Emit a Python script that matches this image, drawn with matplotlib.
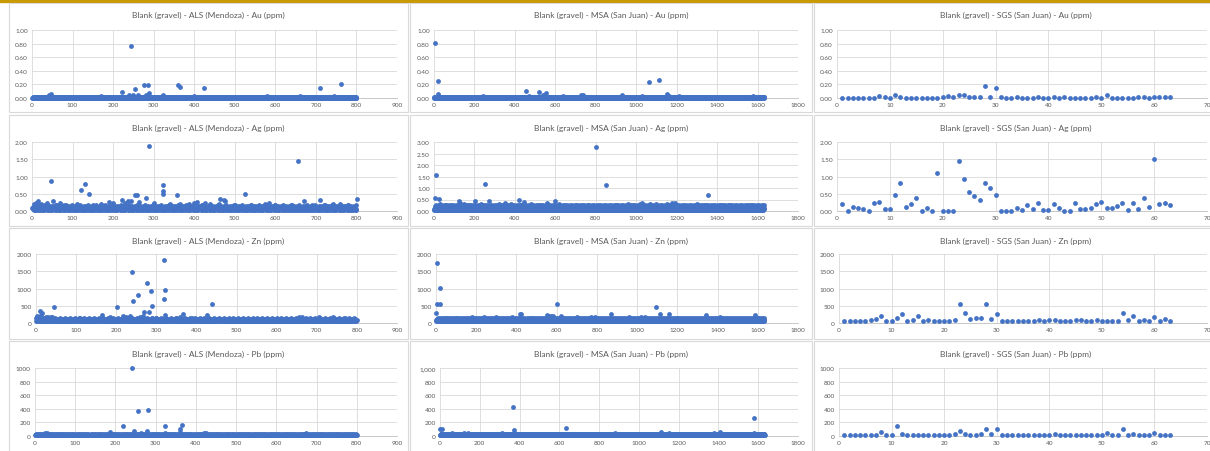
import matplotlib.pyplot as plt
import numpy as np
from matplotlib.patches import Rectangle

# --- data ---

ALS_N = 800     # ALS (Mendoza) sample count
MSA_N = 1632    # MSA (San Juan) sample count

# background level patterns (the dense band), tiled over all samples
ALS_AU_BASE = [0.00, 0.01, 0.00, 0.02, 0.00, 0.01, 0.00, 0.00, 0.01, 0.02, 0.00, 0.01]
ALS_AG_BASE = [0.08, 0.05, 0.12, 0.03, 0.10, 0.06, 0.14, 0.04, 0.09, 0.02, 0.11, 0.07,
               0.15, 0.05, 0.08, 0.03, 0.12, 0.06, 0.18, 0.04]
ALS_ZN_BASE = [70, 90, 60, 110, 80, 50, 100, 75, 120, 65, 85, 140]
ALS_PB_BASE = [15, 25, 10, 20, 30, 12, 18, 22]
MSA_AU_BASE = [0.00, 0.01, 0.00, 0.00, 0.02, 0.01]
MSA_AG_BASE = [0.10, 0.05, 0.15, 0.08, 0.20, 0.03, 0.12, 0.06, 0.18, 0.09, 0.14, 0.24]
MSA_ZN_BASE = [80, 60, 110, 70, 130, 90, 50, 100, 75, 145]
MSA_PB_BASE = [20, 10, 30, 15, 25, 12, 35, 18]

# notable samples (outliers and bumps above the band)
ALS_AU_X = [46, 221, 243, 254, 276, 287, 288, 324, 359, 365, 425, 710, 763, 240, 250, 262,
            280, 42, 170, 400, 580, 660, 745]
ALS_AU_Y = [0.06, 0.09, 0.77, 0.13, 0.19, 0.19, 0.07, 0.04, 0.19, 0.16, 0.15, 0.14, 0.21,
            0.04, 0.05, 0.04, 0.04, 0.04, 0.03, 0.03, 0.03, 0.03, 0.03]

ALS_AG_X = [5, 15, 30, 46, 52, 68, 121, 131, 140, 170, 189, 221, 237, 243, 254, 258, 282,
            288, 322, 322, 323, 358, 365, 386, 399, 407, 426, 460, 463, 474, 477, 524,
            655, 671, 711, 723, 743, 801,
            10, 22, 36, 60, 85, 110, 150, 200, 230, 265, 300, 340, 420, 440, 500, 540,
            575, 585, 600, 640, 690, 760, 780]
ALS_AG_Y = [0.20, 0.28, 0.18, 0.87, 0.30, 0.22, 0.60, 0.77, 0.50, 0.20, 0.25, 0.32, 0.30,
            0.30, 0.45, 0.45, 0.38, 1.88, 0.76, 0.50, 0.57, 0.46, 0.20, 0.20, 0.22, 0.25,
            0.22, 0.20, 0.35, 0.33, 0.28, 0.48, 1.45, 0.30, 0.33, 0.18, 0.20, 0.35,
            0.22, 0.20, 0.24, 0.18, 0.16, 0.20, 0.18, 0.22, 0.24, 0.25, 0.22, 0.20, 0.18,
            0.20, 0.16, 0.18, 0.20, 0.22, 0.18, 0.16, 0.18, 0.20, 0.18]

ALS_ZN_X = [2, 5, 9, 14, 20, 30, 38, 44, 165, 202, 216, 235, 239, 241, 255, 268, 270,
            277, 281, 286, 288, 318, 320, 321, 322, 366, 426, 438, 663, 706, 771,
            1, 3, 6, 12, 16, 25, 33, 40, 100, 110, 185, 225, 230, 260, 290, 300, 350,
            360, 390, 400, 545, 590, 655, 740]
ALS_ZN_Y = [180, 150, 340, 280, 150, 160, 170, 475, 220, 475, 195, 200, 1490, 650, 820,
            200, 330, 1160, 330, 930, 490, 705, 1840, 960, 240, 250, 240, 540, 160, 160, 150,
            150, 200, 160, 220, 130, 170, 150, 160, 130, 140, 160, 180, 150, 160, 150, 140,
            150, 180, 140, 130, 130, 120, 180, 160]

ALS_PB_X = [187, 220, 242, 246, 257, 264, 279, 281, 322, 322, 361, 365, 674,
            25, 30, 60, 360, 420, 425]
ALS_PB_Y = [55, 140, 1000, 70, 370, 40, 80, 385, 150, 50, 100, 155, 40,
            40, 45, 35, 60, 45, 50]

MSA_AU_X = [7, 18, 18, 457, 518, 539, 555, 729, 1063, 1111, 1150, 1579,
            240, 470, 640, 735, 930, 1030, 1160, 1210]
MSA_AU_Y = [0.81, 0.25, 0.06, 0.11, 0.09, 0.05, 0.07, 0.05, 0.23, 0.26, 0.06, 0.03,
            0.03, 0.03, 0.03, 0.04, 0.04, 0.03, 0.03, 0.03]

MSA_AG_X = [7, 12, 23, 122, 201, 250, 274, 419, 447, 597, 800, 849, 1020, 1028, 1177, 1353,
            30, 60, 130, 150, 180, 230, 320, 350, 380, 430, 480, 520, 560, 620, 700, 760,
            900, 960, 1070, 1100, 1150, 1190, 1300, 1340, 1420, 1460, 1570]
MSA_AG_Y = [0.58, 1.58, 0.54, 0.45, 0.45, 1.18, 0.43, 0.48, 0.39, 0.42, 2.80, 1.15, 0.30,
            0.35, 0.33, 0.70,
            0.30, 0.25, 0.35, 0.30, 0.28, 0.32, 0.30, 0.35, 0.30, 0.28, 0.30, 0.25, 0.33,
            0.30, 0.28, 0.25, 0.27, 0.30, 0.30, 0.32, 0.30, 0.36, 0.30, 0.28, 0.28, 0.25,
            0.25]

MSA_ZN_X = [0, 5, 7, 20, 22, 418, 421, 560, 570, 600, 871, 1095, 1116, 1161, 1344, 1584,
            50, 100, 180, 240, 300, 380, 470, 550, 580, 620, 700, 770, 790, 960, 1020,
            1040, 1200, 1410, 1600]
MSA_ZN_Y = [300, 1745, 540, 540, 1005, 270, 270, 200, 210, 560, 260, 455, 250, 250, 220, 230,
            150, 150, 160, 170, 160, 180, 150, 220, 200, 190, 160, 170, 160, 180, 170,
            180, 150, 160, 150]

MSA_PB_X = [0, 10, 368, 370, 636, 1109, 1377, 1410, 1577, 1577,
            60, 120, 140, 310, 880, 1150]
MSA_PB_Y = [100, 110, 420, 85, 115, 65, 50, 55, 265, 50,
            40, 45, 45, 45, 40, 40]

# SGS (San Juan), samples 1..63
SGS_AU = [0.00, 0.00, 0.00, 0.00, 0.00, 0.00, 0.00, 0.03, 0.01, 0.00, 0.04, 0.01, 0.00, 0.00,
          0.00, 0.00, 0.00, 0.00, 0.00, 0.01, 0.03, 0.01, 0.05, 0.04, 0.01, 0.01, 0.01, 0.18,
          0.02, 0.15, 0.02, 0.00, 0.00, 0.01, 0.00, 0.00, 0.00, 0.01, 0.00, 0.00, 0.01, 0.00,
          0.01, 0.00, 0.00, 0.00, 0.00, 0.00, 0.01, 0.00, 0.05, 0.00, 0.00, 0.00, 0.00, 0.00,
          0.01, 0.01, 0.00, 0.02, 0.01, 0.01, 0.01]
SGS_AG = [0.20, 0.01, 0.11, 0.08, 0.05, 0.00, 0.22, 0.26, 0.05, 0.05, 0.45, 0.82, 0.11, 0.20,
          0.37, 0.00, 0.08, 0.01, 1.10, 0.00, 0.00, 0.00, 1.46, 0.94, 0.56, 0.43, 0.31, 0.81,
          0.66, 0.46, 0.00, 0.00, 0.00, 0.09, 0.04, 0.17, 0.07, 0.24, 0.04, 0.04, 0.21, 0.08,
          0.00, 0.00, 0.23, 0.05, 0.05, 0.10, 0.21, 0.25, 0.08, 0.09, 0.15, 0.22, 0.02, 0.23,
          0.05, 0.37, 0.13, 1.51, 0.19, 0.24, 0.18]
SGS_ZN = [70, 50, 70, 70, 70, 80, 110, 190, 60, 70, 150, 270, 70, 80, 210, 60, 80, 70, 70,
          60, 70, 90, 550, 280, 120, 140, 140, 560, 110, 270, 50, 50, 60, 70, 70, 60, 60, 80,
          60, 80, 80, 70, 70, 60, 80, 80, 70, 70, 80, 70, 60, 70, 70, 300, 80, 200, 70, 80,
          60, 170, 70, 120, 60]
SGS_PB = [15, 10, 20, 15, 20, 20, 15, 55, 15, 20, 150, 30, 20, 15, 20, 15, 20, 20, 15, 15,
          15, 25, 80, 25, 20, 20, 25, 110, 30, 100, 10, 15, 15, 20, 15, 15, 15, 10, 10, 15,
          25, 15, 15, 15, 15, 15, 10, 10, 20, 15, 45, 15, 15, 105, 20, 30, 15, 20, 15, 40,
          15, 20, 15]

LABS = ["ALS (Mendoza)", "MSA (San Juan)", "SGS (San Juan)"]
ELEMENTS = ["Au", "Ag", "Zn", "Pb"]

# --- layout (pixels of the 1210x452 picture) ---
W, H = 1210, 452
# plot-area left edge per row/column (Excel shifts it with the y-label width)
PLOT_LEFT = [[32, 434, 837], [32, 434, 837], [36, 436, 839], [35, 440, 839]]
PLOT_RIGHT = [397, 798, 1207]
COL_BOX = [(9, 408), (410, 812), (814, 1222)]
TITLE_X = [208, 611, 1016]
ROW_PLOT = [(31, 99), (143, 212), (255, 324), (369, 437)]
ROW_BOX = [(4, 113), (116, 227), (229, 340), (342, 460)]
TITLE_Y = [15, 128, 241, 354]

XLIM = [(900, 100), (1800, 200), (70, 10)]
# per element and lab: (ymax, step, label format)
YAX = {
    "Au": [(1.0, 0.2, "{:.2f}")] * 3,
    "Ag": [(2.0, 0.5, "{:.2f}"), (3.0, 0.5, "{:.2f}"), (2.0, 0.5, "{:.2f}")],
    "Zn": [(2000, 500, "{:.0f}")] * 3,
    "Pb": [(1000, 200, "{:.0f}"), (1000, 200, "{:,.0f}"), (1000, 200, "{:.0f}")],
}

BLUE = "#4472C4"
GRID = "#D9D9D9"
TXT = "#595959"
plt.rcParams['font.family'] = ['Lato', 'DejaVu Sans']


def dense(base, n, nx, ny):
    x = np.concatenate([np.arange(1, n + 1), nx])
    y = np.concatenate([np.resize(np.array(base, float), n), ny])
    return x, y


sgs_x = np.arange(1, len(SGS_AU) + 1)
SERIES = {
    ("Au", 0): dense(ALS_AU_BASE, ALS_N, ALS_AU_X, ALS_AU_Y),
    ("Ag", 0): dense(ALS_AG_BASE, ALS_N, ALS_AG_X, ALS_AG_Y),
    ("Zn", 0): dense(ALS_ZN_BASE, ALS_N, ALS_ZN_X, ALS_ZN_Y),
    ("Pb", 0): dense(ALS_PB_BASE, ALS_N, ALS_PB_X, ALS_PB_Y),
    ("Au", 1): dense(MSA_AU_BASE, MSA_N, MSA_AU_X, MSA_AU_Y),
    ("Ag", 1): dense(MSA_AG_BASE, MSA_N, MSA_AG_X, MSA_AG_Y),
    ("Zn", 1): dense(MSA_ZN_BASE, MSA_N, MSA_ZN_X, MSA_ZN_Y),
    ("Pb", 1): dense(MSA_PB_BASE, MSA_N, MSA_PB_X, MSA_PB_Y),
    ("Au", 2): (sgs_x, SGS_AU),
    ("Ag", 2): (sgs_x, SGS_AG),
    ("Zn", 2): (sgs_x, SGS_ZN),
    ("Pb", 2): (sgs_x, SGS_PB),
}

fig = plt.figure(figsize=(W / 100, H / 100), dpi=100)

# gold strip along the top
fig.patches.append(Rectangle((0, 1 - 3 / H), 1, 3 / H, transform=fig.transFigure,
                             color="#C99A06", zorder=0))

for r, el in enumerate(ELEMENTS):
    for c, lab in enumerate(LABS):
        bx0, bx1 = COL_BOX[c]
        by0, by1 = ROW_BOX[r]
        fig.patches.append(Rectangle((bx0 / W, 1 - by1 / H), (bx1 - bx0) / W, (by1 - by0) / H,
                                     transform=fig.transFigure, fill=False,
                                     edgecolor=GRID, lw=0.8, zorder=0))

        x0, x1 = PLOT_LEFT[r][c], PLOT_RIGHT[c]
        y0, y1 = ROW_PLOT[r]
        ax = fig.add_axes([x0 / W, 1 - y1 / H, (x1 - x0) / W, (y1 - y0) / H])

        x, y = SERIES[(el, c)]
        ax.scatter(x, y, s=12, color=BLUE, linewidths=0, zorder=3, clip_on=False)

        xmax, xstep = XLIM[c]
        ymax, ystep, fmt = YAX[el][c]
        ax.set_xlim(0, xmax)
        ax.set_ylim(0, ymax)
        xt = np.arange(0, xmax + xstep / 2, xstep)
        yt = np.arange(0, ymax + ystep / 2, ystep)
        ax.set_xticks(xt)
        ax.set_xticklabels([f"{v:.0f}" for v in xt])
        ax.set_yticks(yt)
        ax.set_yticklabels([fmt.format(v) for v in yt])
        ax.tick_params(length=0, labelsize=4.6, colors=TXT, pad=3)
        ax.grid(True, color=GRID, lw=0.6)
        ax.set_axisbelow(True)
        for s in ["top", "right", "left"]:
            ax.spines[s].set_visible(False)
        ax.spines["bottom"].set_color("#BFBFBF")
        ax.spines["bottom"].set_linewidth(0.6)

        fig.text(TITLE_X[c] / W, 1 - TITLE_Y[r] / H,
                 f"Blank (gravel) - {lab} - {el} (ppm)",
                 ha="center", va="center", fontsize=6.0, color=TXT)

fig.savefig("out.png", dpi=100)
